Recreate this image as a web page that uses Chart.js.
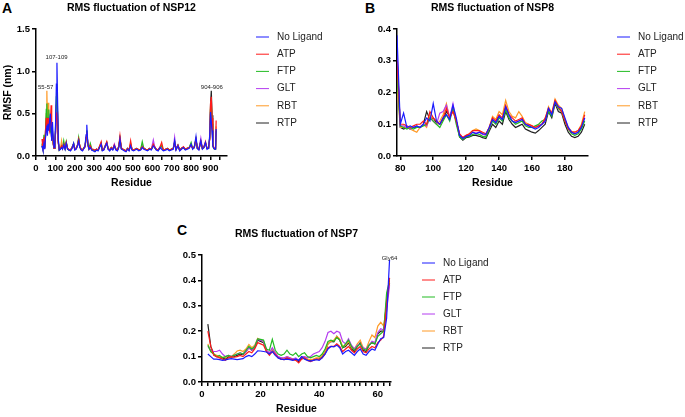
<!DOCTYPE html>
<html lang="en">
<head>
    <meta charset="UTF-8">
    <title>RMS fluctuation of NSP12, NSP8 and NSP7</title>
    <style>
        body {
            margin: 0;
            padding: 0;
            background: #fff;
            width: 685px;
            height: 417px;
            position: relative;
            overflow: hidden;
            font-family: Arial, 'Liberation Sans', sans-serif;
        }

        canvas {
            position: absolute;
        }

        .panel-letter {
            position: absolute;
            font-weight: bold;
            font-size: 14px;
            line-height: 14px;
            color: #000;
        }
    </style>
    <script src="https://cdn.jsdelivr.net/npm/chart.js"></script>
</head>
<body>
    <div class="panel-letter" style="left:2px; top:1px;">A</div>
    <div class="panel-letter" style="left:365px; top:1px;">B</div>
    <div class="panel-letter" style="left:177px; top:223px;">C</div>

    <canvas id="chartA" width="340" height="200" style="left:0px; top:0px;"></canvas>
    <canvas id="chartB" width="325" height="200" style="left:360px; top:0px;"></canvas>
    <canvas id="chartC" width="340" height="202" style="left:160px; top:215px;"></canvas>

    <script>
        const seriesNames = ['No Ligand', 'ATP', 'FTP', 'GLT', 'RBT', 'RTP'];

        // NSP12 (panel A)
        const residuesNsp12 = [31,36,41,45,49,53,56,59,62,66, 70,74,78,81,85,89,93,97,101,105,
            108,111,115,120,126,132,137,143,150,156, 163,170,178,186,194,200,207,214,220,226,
            233,240,247,253,258,262,267,273,280,288, 296,304,312,320,328,336,342,350,358,365,
            372,380,388,396,404,412,420,427,433,440, 448,456,464,472,480,488,495,503,511,520,
            530,540,548,556,565,575,585,595,605,612, 620,630,640,648,657,668,678,688,698,708,
            715,722,732,741,750,760,770,780,790,800, 808,816,825,832,840,850,858,866,874,882,
            890,896,900,904,908,912,917,922,926,929];
        const nsp12NoLigand = [0.12,0.07,0.15,0.08,0.22,0.32,0.36,0.24,0.38,0.30, 0.42,0.50,0.30,0.18,0.40,0.22,0.10,0.12,0.40,0.85,
            1.10,0.70,0.20,0.07,0.08,0.10,0.08,0.13,0.08,0.15, 0.08,0.07,0.06,0.09,0.15,0.07,0.08,0.12,0.18,0.10,
            0.07,0.06,0.09,0.12,0.25,0.37,0.15,0.08,0.10,0.07, 0.06,0.05,0.07,0.06,0.10,0.14,0.06,0.07,0.12,0.15,
            0.08,0.06,0.09,0.07,0.12,0.07,0.06,0.10,0.20,0.08, 0.07,0.06,0.05,0.08,0.06,0.12,0.07,0.06,0.07,0.08,
            0.06,0.07,0.10,0.08,0.07,0.06,0.08,0.07,0.12,0.10, 0.07,0.06,0.10,0.08,0.06,0.07,0.08,0.06,0.07,0.08,
            0.18,0.07,0.12,0.06,0.08,0.10,0.07,0.08,0.09,0.14, 0.08,0.10,0.23,0.09,0.07,0.18,0.08,0.10,0.16,0.08,
            0.09,0.25,0.52,0.40,0.30,0.12,0.09,0.08,0.08,0.32];
        const nsp12ATP = [0.20,0.08,0.22,0.10,0.30,0.45,0.40,0.30,0.45,0.35, 0.30,0.40,0.60,0.25,0.30,0.15,0.09,0.12,0.30,0.50,
            0.52,0.40,0.15,0.08,0.09,0.12,0.10,0.14,0.09,0.16, 0.09,0.08,0.07,0.10,0.14,0.08,0.09,0.13,0.20,0.12,
            0.08,0.07,0.10,0.11,0.22,0.28,0.16,0.09,0.12,0.08, 0.08,0.07,0.08,0.07,0.12,0.17,0.07,0.08,0.13,0.17,
            0.09,0.07,0.10,0.08,0.13,0.08,0.07,0.12,0.24,0.10, 0.08,0.07,0.06,0.09,0.07,0.18,0.08,0.07,0.08,0.09,
            0.07,0.08,0.11,0.09,0.08,0.07,0.09,0.08,0.14,0.11, 0.08,0.07,0.11,0.16,0.07,0.08,0.09,0.07,0.08,0.09,
            0.16,0.08,0.13,0.07,0.09,0.11,0.08,0.09,0.10,0.13, 0.09,0.11,0.20,0.10,0.08,0.17,0.09,0.11,0.17,0.09,
            0.10,0.20,0.62,0.70,0.45,0.14,0.10,0.09,0.09,0.42];
        const nsp12FTP = [0.15,0.08,0.25,0.10,0.28,0.55,0.62,0.35,0.45,0.55, 0.35,0.30,0.35,0.20,0.28,0.15,0.09,0.12,0.35,0.70,
            0.85,0.55,0.18,0.07,0.09,0.11,0.09,0.18,0.09,0.17, 0.08,0.07,0.07,0.10,0.15,0.08,0.09,0.13,0.22,0.11,
            0.08,0.07,0.10,0.12,0.22,0.30,0.15,0.09,0.15,0.08, 0.07,0.06,0.08,0.07,0.11,0.15,0.07,0.08,0.12,0.16,
            0.09,0.07,0.10,0.08,0.12,0.08,0.07,0.11,0.21,0.09, 0.08,0.07,0.06,0.09,0.07,0.14,0.08,0.07,0.08,0.09,
            0.07,0.08,0.17,0.09,0.08,0.07,0.09,0.08,0.13,0.10, 0.08,0.07,0.10,0.12,0.07,0.08,0.09,0.07,0.08,0.09,
            0.17,0.08,0.13,0.07,0.09,0.10,0.08,0.09,0.10,0.16, 0.09,0.10,0.20,0.09,0.08,0.17,0.09,0.10,0.16,0.09,
            0.09,0.22,0.55,0.60,0.38,0.12,0.09,0.08,0.08,0.30];
        const nsp12GLT = [0.13,0.07,0.18,0.09,0.22,0.38,0.40,0.28,0.40,0.32, 0.30,0.35,0.32,0.18,0.26,0.14,0.09,0.11,0.28,0.55,
            0.65,0.45,0.16,0.07,0.08,0.11,0.09,0.15,0.09,0.15, 0.08,0.07,0.07,0.10,0.14,0.08,0.09,0.12,0.19,0.11,
            0.08,0.07,0.09,0.11,0.20,0.27,0.14,0.08,0.11,0.07, 0.07,0.06,0.08,0.07,0.11,0.14,0.07,0.08,0.12,0.15,
            0.08,0.07,0.09,0.08,0.14,0.08,0.07,0.11,0.20,0.09, 0.08,0.07,0.06,0.09,0.07,0.13,0.08,0.07,0.08,0.09,
            0.07,0.08,0.12,0.09,0.08,0.07,0.09,0.08,0.19,0.11, 0.08,0.07,0.11,0.10,0.07,0.08,0.09,0.07,0.08,0.09,
            0.22,0.08,0.13,0.07,0.09,0.10,0.08,0.09,0.10,0.13, 0.09,0.10,0.18,0.09,0.08,0.21,0.09,0.10,0.15,0.09,
            0.09,0.20,0.50,0.55,0.35,0.12,0.09,0.08,0.08,0.28];
        const nsp12RBT = [0.14,0.08,0.20,0.10,0.30,0.50,0.77,0.40,0.63,0.45, 0.38,0.35,0.30,0.20,0.25,0.14,0.09,0.11,0.28,0.55,
            0.70,0.50,0.17,0.07,0.09,0.18,0.09,0.14,0.09,0.16, 0.08,0.07,0.07,0.10,0.14,0.08,0.09,0.12,0.20,0.11,
            0.08,0.07,0.10,0.11,0.21,0.28,0.15,0.09,0.12,0.08, 0.07,0.06,0.08,0.07,0.11,0.15,0.07,0.08,0.12,0.16,
            0.08,0.07,0.10,0.08,0.13,0.08,0.07,0.11,0.21,0.09, 0.08,0.07,0.06,0.09,0.07,0.15,0.08,0.07,0.08,0.09,
            0.07,0.08,0.13,0.09,0.08,0.07,0.09,0.08,0.14,0.10, 0.08,0.07,0.10,0.12,0.07,0.08,0.09,0.07,0.08,0.09,
            0.16,0.08,0.12,0.07,0.09,0.10,0.08,0.09,0.10,0.13, 0.09,0.10,0.19,0.09,0.08,0.17,0.09,0.10,0.15,0.09,
            0.09,0.21,0.58,0.65,0.40,0.12,0.09,0.08,0.08,0.35];
        const nsp12RTP = [0.12,0.07,0.17,0.09,0.24,0.40,0.45,0.30,0.42,0.35, 0.32,0.38,0.35,0.18,0.26,0.14,0.09,0.11,0.30,0.60,
            0.75,0.50,0.16,0.07,0.08,0.11,0.09,0.14,0.09,0.15, 0.08,0.07,0.07,0.10,0.14,0.08,0.09,0.12,0.19,0.11,
            0.08,0.07,0.09,0.11,0.20,0.30,0.14,0.08,0.11,0.07, 0.07,0.06,0.08,0.07,0.11,0.15,0.07,0.08,0.12,0.15,
            0.08,0.07,0.09,0.08,0.12,0.08,0.07,0.11,0.20,0.09, 0.08,0.07,0.06,0.09,0.07,0.13,0.08,0.07,0.08,0.09,
            0.07,0.08,0.12,0.09,0.08,0.07,0.09,0.08,0.13,0.10, 0.08,0.07,0.10,0.11,0.07,0.08,0.09,0.07,0.08,0.09,
            0.16,0.08,0.12,0.07,0.09,0.10,0.08,0.09,0.10,0.13, 0.09,0.10,0.19,0.09,0.08,0.17,0.09,0.10,0.15,0.09,
            0.09,0.22,0.60,0.77,0.48,0.13,0.09,0.08,0.08,0.30];
        const nsp12Labels = [
            { text: '55-57', x: 50, y: 0.81 },
            { text: '107-109', x: 106, y: 1.16 },
            { text: '904-906', x: 907, y: 0.81 }
        ];

        // NSP8 (panel B)
        const residuesNsp8 = [78,80,82,84,86,88,90,92,94,96, 98,100,102,104,106,108,110,112,114,116,
            118,120,122,124,126,128,130,132,134,136, 138,140,142,144,146,148,150,152,154,156,
            158,160,162,164,166,168,170,172,174,176, 178,180,182,184,186,188,190,192];
        const nsp8NoLigand = [0.38,0.10,0.135,0.09,0.095,0.09,0.095,0.09,0.10,0.12,
            0.11,0.165,0.11,0.10,0.12,0.13,0.115,0.16,0.12,0.065,
            0.055,0.062,0.065,0.075,0.07,0.075,0.07,0.068,0.09,0.115,
            0.105,0.125,0.115,0.155,0.13,0.11,0.105,0.11,0.115,0.10,
            0.095,0.09,0.085,0.09,0.10,0.11,0.15,0.13,0.17,0.155,
            0.15,0.12,0.09,0.075,0.07,0.075,0.09,0.12];
        const nsp8ATP = [0.30,0.10,0.10,0.095,0.09,0.095,0.10,0.10,0.11,0.10,
            0.14,0.12,0.11,0.10,0.12,0.15,0.12,0.14,0.11,0.07,
            0.058,0.065,0.07,0.08,0.08,0.08,0.075,0.07,0.09,0.12,
            0.11,0.13,0.12,0.16,0.13,0.12,0.11,0.115,0.12,0.10,
            0.10,0.095,0.09,0.095,0.10,0.12,0.15,0.135,0.175,0.155,
            0.14,0.11,0.085,0.075,0.075,0.08,0.095,0.13];
        const nsp8FTP = [0.25,0.095,0.09,0.085,0.09,0.085,0.09,0.09,0.095,0.10,
            0.12,0.11,0.10,0.09,0.11,0.13,0.11,0.15,0.10,0.06,
            0.052,0.06,0.062,0.068,0.07,0.068,0.062,0.06,0.085,0.11,
            0.10,0.12,0.11,0.145,0.12,0.11,0.10,0.105,0.11,0.095,
            0.09,0.09,0.095,0.10,0.11,0.115,0.14,0.125,0.17,0.15,
            0.14,0.11,0.085,0.07,0.065,0.07,0.085,0.11];
        const nsp8GLT = [0.33,0.095,0.095,0.09,0.085,0.09,0.095,0.09,0.10,0.095,
            0.12,0.11,0.10,0.135,0.14,0.16,0.12,0.165,0.11,0.068,
            0.055,0.062,0.065,0.075,0.072,0.075,0.068,0.065,0.085,0.115,
            0.105,0.125,0.115,0.15,0.125,0.11,0.105,0.11,0.115,0.10,
            0.095,0.09,0.09,0.095,0.10,0.11,0.15,0.13,0.17,0.15,
            0.14,0.115,0.09,0.075,0.07,0.075,0.09,0.12];
        const nsp8RBT = [0.22,0.09,0.09,0.09,0.085,0.08,0.075,0.09,0.10,0.09,
            0.13,0.11,0.10,0.11,0.13,0.165,0.12,0.15,0.11,0.07,
            0.058,0.065,0.07,0.08,0.085,0.08,0.07,0.068,0.09,0.125,
            0.115,0.14,0.13,0.175,0.14,0.125,0.12,0.14,0.125,0.105,
            0.10,0.095,0.09,0.095,0.10,0.115,0.155,0.135,0.18,0.16,
            0.15,0.115,0.09,0.078,0.075,0.08,0.10,0.14];
        const nsp8RTP = [0.32,0.09,0.085,0.09,0.085,0.09,0.09,0.09,0.10,0.14,
            0.115,0.12,0.105,0.10,0.115,0.14,0.125,0.15,0.11,0.06,
            0.05,0.058,0.06,0.065,0.065,0.062,0.058,0.055,0.078,0.10,
            0.09,0.11,0.10,0.14,0.115,0.10,0.09,0.095,0.10,0.085,
            0.08,0.075,0.072,0.08,0.09,0.10,0.14,0.12,0.165,0.14,
            0.135,0.10,0.075,0.062,0.058,0.062,0.075,0.10];

        // NSP7 (panel C)
        const residuesNsp7 = [2,3,4,5,6,7,8,9,10,11, 12,13,14,15,16,17,18,19,20,21,
            22,23,24,25,26,27,28,29,30,31, 32,33,34,35,36,37,38,39,40,41,
            42,43,44,45,46,47,48,49,50,51, 52,53,54,55,56,57,58,59,60,61, 62,63,64];
        const nsp7NoLigand = [0.11,0.10,0.09,0.09,0.088,0.085,0.087,0.09,0.092,0.09,
            0.088,0.09,0.092,0.10,0.105,0.10,0.11,0.123,0.122,0.12,
            0.118,0.11,0.12,0.105,0.095,0.09,0.088,0.09,0.088,0.085,
            0.09,0.085,0.10,0.09,0.085,0.082,0.085,0.088,0.085,0.095,
            0.11,0.13,0.14,0.138,0.145,0.135,0.11,0.12,0.125,0.115,
            0.105,0.12,0.13,0.11,0.105,0.12,0.13,0.125,0.15,0.17,
            0.175,0.25,0.48];
        const nsp7ATP = [0.20,0.14,0.105,0.10,0.095,0.09,0.085,0.095,0.10,0.098,
            0.10,0.105,0.10,0.11,0.12,0.115,0.13,0.155,0.15,0.145,
            0.12,0.105,0.12,0.11,0.095,0.09,0.088,0.095,0.09,0.088,
            0.085,0.075,0.09,0.095,0.085,0.08,0.085,0.09,0.088,0.095,
            0.11,0.135,0.14,0.14,0.15,0.14,0.12,0.13,0.14,0.125,
            0.115,0.13,0.14,0.12,0.115,0.13,0.14,0.135,0.155,0.165,
            0.18,0.30,0.41];
        const nsp7FTP = [0.145,0.12,0.11,0.10,0.105,0.095,0.10,0.105,0.10,0.105,
            0.11,0.115,0.11,0.125,0.14,0.13,0.14,0.17,0.168,0.165,
            0.13,0.125,0.168,0.125,0.11,0.105,0.11,0.125,0.11,0.105,
            0.115,0.10,0.11,0.115,0.10,0.095,0.10,0.105,0.10,0.11,
            0.13,0.16,0.165,0.16,0.175,0.165,0.135,0.15,0.165,0.14,
            0.125,0.14,0.15,0.13,0.125,0.145,0.155,0.15,0.18,0.19,
            0.20,0.35,0.40];
        const nsp7GLT = [0.14,0.125,0.12,0.12,0.125,0.11,0.10,0.105,0.10,0.105,
            0.11,0.115,0.11,0.12,0.135,0.125,0.14,0.168,0.165,0.16,
            0.125,0.115,0.135,0.115,0.10,0.095,0.095,0.10,0.095,0.09,
            0.095,0.085,0.10,0.10,0.095,0.10,0.11,0.115,0.12,0.135,
            0.16,0.195,0.20,0.19,0.20,0.195,0.16,0.15,0.17,0.145,
            0.13,0.145,0.15,0.135,0.13,0.145,0.16,0.155,0.195,0.21,
            0.205,0.28,0.38];
        const nsp7RBT = [0.15,0.12,0.11,0.105,0.10,0.098,0.095,0.105,0.10,0.11,
            0.122,0.125,0.12,0.13,0.148,0.135,0.145,0.172,0.165,0.16,
            0.125,0.11,0.13,0.115,0.098,0.095,0.092,0.10,0.095,0.09,
            0.092,0.085,0.10,0.098,0.09,0.088,0.09,0.095,0.095,0.105,
            0.12,0.15,0.16,0.165,0.18,0.17,0.14,0.145,0.16,0.135,
            0.13,0.15,0.165,0.135,0.13,0.16,0.185,0.175,0.22,0.235,
            0.22,0.30,0.41];
        const nsp7RTP = [0.228,0.14,0.11,0.10,0.10,0.095,0.09,0.10,0.098,0.10,
            0.105,0.11,0.108,0.12,0.135,0.125,0.135,0.165,0.16,0.155,
            0.12,0.11,0.13,0.11,0.095,0.09,0.09,0.095,0.09,0.088,
            0.09,0.08,0.095,0.095,0.088,0.085,0.088,0.09,0.09,0.10,
            0.12,0.15,0.16,0.158,0.18,0.165,0.135,0.14,0.155,0.13,
            0.12,0.14,0.155,0.125,0.12,0.145,0.155,0.15,0.19,0.20,
            0.20,0.32,0.39];
        const nsp7Labels = [
            { text: 'Gly64', x: 64, y: 0.488 }
        ];

        const seriesColors = ['#1a1aff', '#ff1a1a', '#22bb22', '#b43cf0', '#ff9a26', '#222222'];
        const fontFamily = "Arial, 'Liberation Sans', sans-serif";

        Chart.defaults.font.family = fontFamily;
        Chart.defaults.color = '#000';
        Chart.defaults.animation = false;

        // small legend drawn next to the plot: short line + label per dataset
        const lineLegend = {
            id: 'lineLegend',
            afterDraw(chart, args, opts) {
                const ctx = chart.ctx;
                ctx.save();
                ctx.font = '10px ' + fontFamily;
                ctx.textBaseline = 'middle';
                ctx.textAlign = 'left';
                chart.data.datasets.forEach((ds, i) => {
                    const y = opts.y + i * opts.rowHeight;
                    ctx.strokeStyle = ds.borderColor;
                    ctx.lineWidth = 1;
                    ctx.beginPath();
                    ctx.moveTo(opts.x, y);
                    ctx.lineTo(opts.x + 13, y);
                    ctx.stroke();
                    ctx.fillStyle = '#222';
                    ctx.fillText(ds.label, opts.x + 21, y);
                });
                ctx.restore();
            }
        };

        // residue labels over the peaks
        const peakLabels = {
            id: 'peakLabels',
            afterDatasetsDraw(chart, args, opts) {
                if (!opts.items) return;
                const ctx = chart.ctx;
                const xs = chart.scales.x, ys = chart.scales.y;
                ctx.save();
                ctx.font = '6px ' + fontFamily;
                ctx.fillStyle = '#222';
                ctx.textAlign = 'center';
                ctx.textBaseline = 'middle';
                opts.items.forEach(item => {
                    ctx.fillText(item.text, xs.getPixelForValue(item.x), ys.getPixelForValue(item.y));
                });
                ctx.restore();
            }
        };

        function makeDatasets(residues, seriesValues) {
            return seriesValues.map((values, i) => ({
                label: seriesNames[i],
                data: residues.map((r, j) => ({ x: r, y: values[j] })),
                borderColor: seriesColors[i],
                backgroundColor: seriesColors[i],
                borderWidth: 1.2,
                pointRadius: 0,
                tension: 0,
                fill: false
            }));
        }

        function axisStyle() {
            return {
                grid: { drawOnChartArea: false, drawTicks: true, tickLength: 4, color: '#000', lineWidth: 1.5 },
                border: { display: true, color: '#000', width: 1.5 }
            };
        }

        function makeChart(id, cfg) {
            const xAxis = Object.assign(axisStyle(), {
                type: 'linear',
                min: cfg.xMin,
                max: cfg.xMax,
                afterFit: scale => { scale.height = cfg.xHeight; },
                ticks: {
                    stepSize: cfg.xStep,
                    maxTicksLimit: 200,
                    autoSkip: false,
                    includeBounds: false,
                    maxRotation: 0,
                    padding: 3,
                    font: { size: 9.5, weight: 'bold' },
                    callback: v => (Math.round(v) % cfg.xLabelEvery === 0 ? Math.round(v) : '')
                },
                title: {
                    display: true,
                    text: 'Residue',
                    font: { size: 10.5, weight: 'bold' },
                    padding: { top: 0, bottom: cfg.xTitlePad }
                }
            });
            const yAxis = Object.assign(axisStyle(), {
                min: 0,
                max: cfg.yMax,
                afterFit: scale => { scale.width = cfg.yWidth; },
                ticks: {
                    stepSize: cfg.yStep,
                    padding: 2,
                    font: { size: 9.5, weight: 'bold' },
                    callback: v => v.toFixed(1)
                },
                title: {
                    display: !!cfg.yTitle,
                    text: cfg.yTitle || '',
                    font: { size: 10.5, weight: 'bold' },
                    padding: { top: 1.7, bottom: 0 }
                }
            });

            return new Chart(document.getElementById(id), {
                type: 'line',
                data: { datasets: makeDatasets(cfg.residues, cfg.series) },
                options: {
                    responsive: false,
                    animation: false,
                    layout: { padding: { left: 0, top: 0, right: cfg.padRight, bottom: 0 } },
                    scales: { x: xAxis, y: yAxis },
                    plugins: {
                        legend: { display: false },
                        tooltip: { enabled: false },
                        title: {
                            display: true,
                            text: cfg.title,
                            fullSize: false,
                            color: '#000',
                            font: { size: 10.5, weight: 'bold' },
                            padding: { top: cfg.titlePadTop, bottom: 14.7 }
                        },
                        lineLegend: cfg.legend,
                        peakLabels: { items: cfg.labels }
                    }
                },
                plugins: [lineLegend, peakLabels]
            });
        }

        makeChart('chartA', {
            title: 'RMS fluctuation of NSP12',
            residues: residuesNsp12,
            series: [nsp12NoLigand, nsp12ATP, nsp12FTP, nsp12GLT, nsp12RBT, nsp12RTP],
            labels: nsp12Labels,
            xMin: 0, xMax: 985, xStep: 50, xLabelEvery: 100,
            yMax: 1.5, yStep: 0.5, yTitle: 'RMSF (nm)',
            yWidth: 36, xHeight: 44, xTitlePad: 10.4, padRight: 113, titlePadTop: 1.7,
            legend: { x: 256, y: 37, rowHeight: 17.2 }
        });

        makeChart('chartB', {
            title: 'RMS fluctuation of NSP8',
            residues: residuesNsp8,
            series: [nsp8NoLigand, nsp8ATP, nsp8FTP, nsp8GLT, nsp8RBT, nsp8RTP],
            labels: null,
            xMin: 78, xMax: 194, xStep: 20, xLabelEvery: 20,
            yMax: 0.4, yStep: 0.1, yTitle: null,
            yWidth: 37, xHeight: 44, xTitlePad: 10.4, padRight: 97, titlePadTop: 1.7,
            legend: { x: 257, y: 37, rowHeight: 17.2 }
        });

        makeChart('chartC', {
            title: 'RMS fluctuation of NSP7',
            residues: residuesNsp7,
            series: [nsp7NoLigand, nsp7ATP, nsp7FTP, nsp7GLT, nsp7RBT, nsp7RTP],
            labels: nsp7Labels,
            xMin: 0, xMax: 64.5, xStep: 2, xLabelEvery: 20,
            yMax: 0.5, yStep: 0.1, yTitle: null,
            yWidth: 42, xHeight: 35, xTitlePad: 1.4, padRight: 109, titlePadTop: 12.7,
            legend: { x: 262, y: 48, rowHeight: 17 }
        });
    </script>
</body>
</html>
